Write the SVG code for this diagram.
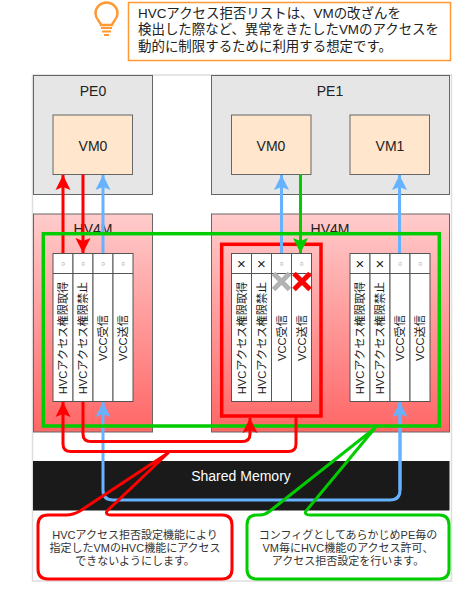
<svg xmlns="http://www.w3.org/2000/svg" width="467" height="594" viewBox="0 0 467 594">
<style>
text{font-family:"Liberation Sans","Noto Sans CJK JP",sans-serif;fill:#222}
.box{stroke:#666;stroke-width:1}
.pe{fill:#e6e6e6}
.vm{fill:#ffe6cc}
.hv{fill:url(#hvg)}
.c{text-anchor:middle}
.t14{font-size:14px}
.cell{fill:#fff;stroke:#555;stroke-width:1}
.v{font-size:11.2px;text-anchor:middle;dominant-baseline:central}
.o{font-size:7px;text-anchor:middle;fill:#666}
.x{font-size:15px;text-anchor:middle}
.call{font-size:11px;text-anchor:middle;fill:#333}
.note{font-size:13.45px}
.line{fill:none;stroke-linejoin:round}
.r{stroke:#ff0000;stroke-width:3}
.b{stroke:#66b2ff;stroke-width:3}
.g{stroke:#00cc00;stroke-width:3}
</style>
<defs>
<linearGradient id="hvg" x1="0" y1="0" x2="0" y2="1"><stop offset="0" stop-color="#ffcccc"/><stop offset="1" stop-color="#ff6666"/></linearGradient>
<marker id="ar" markerUnits="userSpaceOnUse" markerWidth="16" markerHeight="16" refX="15" refY="8" orient="auto"><path d="M0 0.500L15 8L0 15.500L3 8Z" fill="#ff0000"/></marker>
<marker id="ab" markerUnits="userSpaceOnUse" markerWidth="16" markerHeight="16" refX="15" refY="8" orient="auto"><path d="M0 0.500L15 8L0 15.500L3 8Z" fill="#66b2ff"/></marker>
<marker id="ag" markerUnits="userSpaceOnUse" markerWidth="16" markerHeight="16" refX="15" refY="8" orient="auto"><path d="M0 0.500L15 8L0 15.500L3 8Z" fill="#00cc00"/></marker>
</defs>

<rect id="frame" x="32.500" y="75" width="419" height="506" fill="#fff" stroke="#ddd" stroke-width="1.500"/>

<g id="note">
<rect x="128.500" y="2.500" width="322" height="58" fill="#fff" stroke="#ff9933" stroke-width="1.500"/>
<text class="note" x="138" y="18">HVCアクセス拒否リストは、VMの改ざんを</text>
<text class="note" x="138" y="34">検出した際など、異常をきたしたVMのアクセスを</text>
<text class="note" x="138" y="50.500">動的に制限するために利用する想定です。</text>
</g>
<g id="bulb" fill="none" stroke="#ff9933">
<path d="M101 25C100 21 95.500 19 95.500 13.500A11 11 0 1 1 117.500 13.500C117.500 19 113 21 112 25Z" stroke-width="2.500"/>
<path d="M101 28H112M102 31.500H111" stroke-width="2"/>
<path d="M104 35H109" stroke-width="2"/>
</g>

<g id="pe0"><rect class="box pe" x="33.500" y="75.500" width="119" height="119"/><text class="c t14" x="93" y="96">PE0</text></g>
<g id="pe1"><rect class="box pe" x="211.500" y="75.500" width="238" height="119"/><text class="c t14" x="330" y="96">PE1</text></g>
<g id="pe0-vm0"><rect class="box vm" x="53" y="115" width="79.500" height="59.500"/><text class="c t14" x="93" y="151">VM0</text></g>
<g id="pe1-vm0"><rect class="box vm" x="231.500" y="115" width="79.500" height="59.500"/><text class="c t14" x="271" y="151">VM0</text></g>
<g id="pe1-vm1"><rect class="box vm" x="350" y="115" width="79.500" height="59.500"/><text class="c t14" x="390" y="151">VM1</text></g>

<g id="hv0"><rect class="box hv" x="33.500" y="214" width="119" height="218"/><text class="c t14" x="93" y="234">HV4M</text></g>
<g id="hv1"><rect class="box hv" x="211.500" y="214" width="238" height="218"/><text class="c t14" x="330" y="234">HV4M</text></g>

<g id="table0">
<rect class="cell" x="53" y="253.500" width="20" height="148"/><rect class="cell" x="73" y="253.500" width="20" height="148"/><rect class="cell" x="93" y="253.500" width="20" height="148"/><rect class="cell" x="113" y="253.500" width="20" height="148"/>
<path d="M53 273.500H133" stroke="#555"/>
<text class="o" x="63" y="266">○</text><text class="o" x="83" y="266">○</text><text class="o" x="103" y="266">○</text><text class="o" x="123" y="266">○</text>
<text class="v" transform="translate(63 338) rotate(-90)">HVCアクセス権限取得</text>
<text class="v" transform="translate(83 338) rotate(-90)">HVCアクセス権限禁止</text>
<text class="v" transform="translate(103 338) rotate(-90)">VCC受信</text>
<text class="v" transform="translate(123 338) rotate(-90)">VCC送信</text>
</g>
<g id="table1">
<rect class="cell" x="231.500" y="253.500" width="20" height="148"/><rect class="cell" x="251.500" y="253.500" width="20" height="148"/><rect class="cell" x="271.500" y="253.500" width="20" height="148"/><rect class="cell" x="291.500" y="253.500" width="20" height="148"/>
<path d="M231.500 273.500H311.500" stroke="#555"/>
<text class="x" x="241.500" y="268.500">×</text><text class="x" x="261.500" y="268.500">×</text><text class="o" x="281.500" y="266">○</text><text class="o" x="301.500" y="266">○</text>
<text class="v" transform="translate(241.500 338) rotate(-90)">HVCアクセス権限取得</text>
<text class="v" transform="translate(261.500 338) rotate(-90)">HVCアクセス権限禁止</text>
<text class="v" transform="translate(281.500 338) rotate(-90)">VCC受信</text>
<text class="v" transform="translate(301.500 338) rotate(-90)">VCC送信</text>
</g>
<g id="table2">
<rect class="cell" x="350" y="253.500" width="20" height="148"/><rect class="cell" x="370" y="253.500" width="20" height="148"/><rect class="cell" x="390" y="253.500" width="20" height="148"/><rect class="cell" x="410" y="253.500" width="20" height="148"/>
<path d="M350 273.500H430" stroke="#555"/>
<text class="x" x="360" y="268.500">×</text><text class="x" x="380" y="268.500">×</text><text class="o" x="400" y="266">○</text><text class="o" x="420" y="266">○</text>
<text class="v" transform="translate(360 338) rotate(-90)">HVCアクセス権限取得</text>
<text class="v" transform="translate(380 338) rotate(-90)">HVCアクセス権限禁止</text>
<text class="v" transform="translate(400 338) rotate(-90)">VCC受信</text>
<text class="v" transform="translate(420 338) rotate(-90)">VCC送信</text>
</g>

<g id="shared-memory"><rect x="33" y="461" width="416.500" height="49.500" fill="#1a1a1a"/><text class="c" x="241" y="481" font-size="14" style="fill:#fff">Shared Memory</text></g>

<g id="red-highlight"><rect x="221.700" y="244.300" width="99.300" height="171.700" fill="none" stroke="#ff0000" stroke-width="3.500"/></g>

<g id="connectors">
<path class="line b" d="M400 402V490Q400 500 390 500H113Q103 500 103 490V402" marker-end="url(#ab)"/>
<path class="line b" d="M400 490V402" marker-end="url(#ab)"/>
<path class="line b" d="M103 253V175" marker-end="url(#ab)"/>
<path class="line b" d="M281.500 253V175" marker-end="url(#ab)"/>
<path class="line b" d="M399.500 253V175" marker-end="url(#ab)"/>
<path class="line r" d="M63 253V175" marker-end="url(#ar)"/>
<path class="line r" d="M83 174.500V253" marker-end="url(#ar)"/>
<path class="line g" d="M300.500 174.500V253" marker-end="url(#ag)"/>
</g>

<g id="green-highlight"><rect x="43.300" y="233.700" width="396" height="192.300" fill="none" stroke="#00cc00" stroke-width="3.500"/></g>

<g id="connectors-over">
<path class="line r" d="M296 417V444Q296 451.500 288 451.500H71Q63 451.500 63 444V402" marker-end="url(#ar)"/>
<path class="line r" d="M83 402V434Q83 441.500 91 441.500H242Q250 441.500 250 434V418" marker-end="url(#ar)"/>
</g>

<g id="x-gray"><path d="M273.500 273.500L289.500 289.500M289.500 273.500L273.500 289.500" stroke="#b3b3b3" stroke-width="5"/></g>
<g id="x-red"><path d="M294 273.500L310 289.500M310 273.500L294 289.500" stroke="#ff0000" stroke-width="5"/></g>

<g id="callout-red">
<rect x="38" y="515" width="194" height="64" rx="10" fill="#fff"/>
<path d="M48 515H66Q73 515 80 511L168 453L107 511Q105 515 111 515H222Q232 515 232 525V569Q232 579 222 579H48Q38 579 38 569V525Q38 515 48 515Z" fill="none" stroke="#ff0000" stroke-width="3" stroke-linejoin="round"/>
<text class="call" x="135" y="539">HVCアクセス拒否設定機能により</text>
<text class="call" x="135" y="552">指定したVMのHVC機能にアクセス</text>
<text class="call" x="135" y="565">できないようにします。</text>
</g>
<g id="callout-green">
<rect x="247" y="515" width="202" height="64" rx="10" fill="#fff"/>
<path d="M257 515H260Q265 515 270 511L375 428L306 511Q304 515 310 515H439Q449 515 449 525V569Q449 579 439 579H257Q247 579 247 569V525Q247 515 257 515Z" fill="none" stroke="#00cc00" stroke-width="3" stroke-linejoin="round"/>
<text class="call" x="348" y="539">コンフィグとしてあらかじめPE毎の</text>
<text class="call" x="348" y="552">VM毎にHVC機能のアクセス許可、</text>
<text class="call" x="348" y="565">アクセス拒否設定を行います。</text>
</g>
</svg>
